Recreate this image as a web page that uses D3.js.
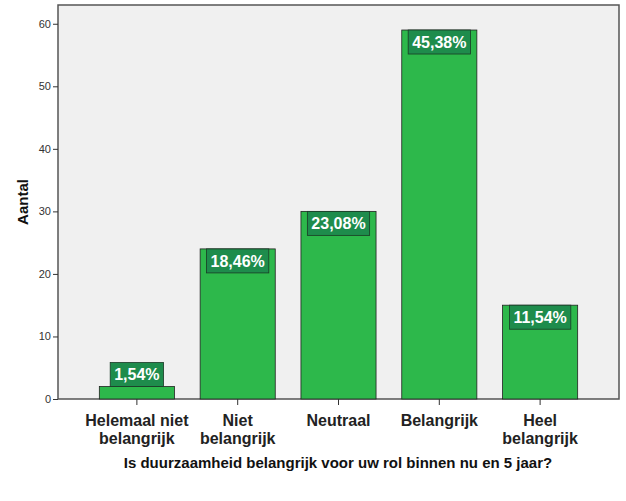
<!DOCTYPE html>
<html>
<head>
<meta charset="utf-8">
<script src="https://cdn.jsdelivr.net/npm/d3@7"></script>
<style>
  body { margin: 0; background: #fff; }
  text { font-family: Arial, "Liberation Sans", sans-serif; }
</style>
</head>
<body>
<div id="chart"></div>
<script>
// categories (two-line labels) and counts
var categories = [["Helemaal niet", "belangrijk"], ["Niet", "belangrijk"], ["Neutraal"], ["Belangrijk"], ["Heel", "belangrijk"]];
var counts = [2, 24, 30, 59, 15];
var percentLabels = ["1,54%", "18,46%", "23,08%", "45,38%", "11,54%"];
var yTicks = [0, 10, 20, 30, 40, 50, 60];

var width = 626, height = 501;
var margin = {top: 5, right: 7, bottom: 102, left: 58};

var svg = d3.select("#chart").append("svg")
  .attr("width", width)
  .attr("height", height);

var x = d3.scaleBand()
  .domain(d3.range(categories.length))
  .range([margin.left, width - margin.right])
  .paddingInner(0.255)
  .paddingOuter(0.41);

var y = d3.scaleLinear()
  .domain([0, 63])
  .range([height - margin.bottom, margin.top]);

// plot background
svg.append("rect")
  .attr("x", margin.left)
  .attr("y", margin.top)
  .attr("width", width - margin.left - margin.right)
  .attr("height", height - margin.top - margin.bottom)
  .style("fill", "#f0f0f0")
  .style("stroke", "#555")
  .style("stroke-width", 1.5);

// bars
svg.selectAll("rect.bar")
  .data(counts)
  .enter()
  .append("rect")
  .attr("class", "bar")
  .attr("x", function(d, i) { return x(i); })
  .attr("y", function(d) { return y(d); })
  .attr("width", x.bandwidth())
  .attr("height", function(d) { return y(0) - y(d); })
  .style("fill", "#2db84b")
  .style("stroke", "#222")
  .style("stroke-width", 0.8);

// percentage labels
var boxH = 24;
var lab = svg.selectAll("g.lab")
  .data(counts)
  .enter()
  .append("g")
  .attr("class", "lab");

lab.append("text")
  .attr("x", function(d, i) { return x(i) + x.bandwidth() / 2; })
  .attr("y", function(d) {
    var top = (y(0) - y(d) > boxH) ? y(d) : y(d) - boxH;
    return top + 18;
  })
  .attr("text-anchor", "middle")
  .style("font-size", "16px")
  .style("font-weight", "bold")
  .style("fill", "#fff")
  .text(function(d, i) { return percentLabels[i]; })
  .each(function(d, i) {
    var bb = this.getBBox();
    var top = (y(0) - y(d) > boxH) ? y(d) : y(d) - boxH;
    d3.select(this.parentNode).insert("rect", "text")
      .attr("x", bb.x - 4)
      .attr("y", top)
      .attr("width", bb.width + 8)
      .attr("height", boxH)
      .style("fill", "#1e8c4c")
      .style("stroke", "#1a3a26")
      .style("stroke-width", 0.8);
  });

// y axis
var yAxis = svg.append("g")
  .attr("transform", "translate(" + margin.left + ",0)")
  .call(d3.axisLeft(y).tickValues(yTicks).tickSize(5).tickPadding(2));
yAxis.select(".domain").remove();
yAxis.selectAll("line").style("stroke", "#333");
yAxis.selectAll("text")
  .style("font-size", "11px")
  .style("fill", "#333")
  .style("font-family", "Arial, 'Liberation Sans', sans-serif");

// x axis ticks
var xAxis = svg.append("g")
  .attr("transform", "translate(0," + y(0) + ")")
  .call(d3.axisBottom(x).tickSize(6).tickFormat(""));
xAxis.select(".domain").remove();
xAxis.selectAll("line").style("stroke", "#333");

// x tick labels (multi-line)
var xl = svg.selectAll("text.xlab")
  .data(categories)
  .enter()
  .append("text")
  .attr("class", "xlab")
  .attr("x", function(d, i) { return x(i) + x.bandwidth() / 2; })
  .attr("y", 426)
  .attr("text-anchor", "middle")
  .style("font-size", "16px")
  .style("font-weight", "bold")
  .style("fill", "#222");
xl.selectAll("tspan")
  .data(function(d) { return d; })
  .enter()
  .append("tspan")
  .attr("x", function() { return d3.select(this.parentNode).attr("x"); })
  .attr("dy", function(d, j) { return j === 0 ? 0 : 18; })
  .text(function(d) { return d; });

// axis titles
svg.append("text")
  .attr("x", 338)
  .attr("y", 468)
  .attr("text-anchor", "middle")
  .style("font-size", "15px")
  .style("font-weight", "bold")
  .style("fill", "#111")
  .text("Is duurzaamheid belangrijk voor uw rol binnen nu en 5 jaar?");

svg.append("text")
  .attr("transform", "translate(28," + ((margin.top + height - margin.bottom) / 2) + ") rotate(-90)")
  .attr("text-anchor", "middle")
  .style("font-size", "15px")
  .style("font-weight", "bold")
  .style("fill", "#111")
  .text("Aantal");
</script>
</body>
</html>
